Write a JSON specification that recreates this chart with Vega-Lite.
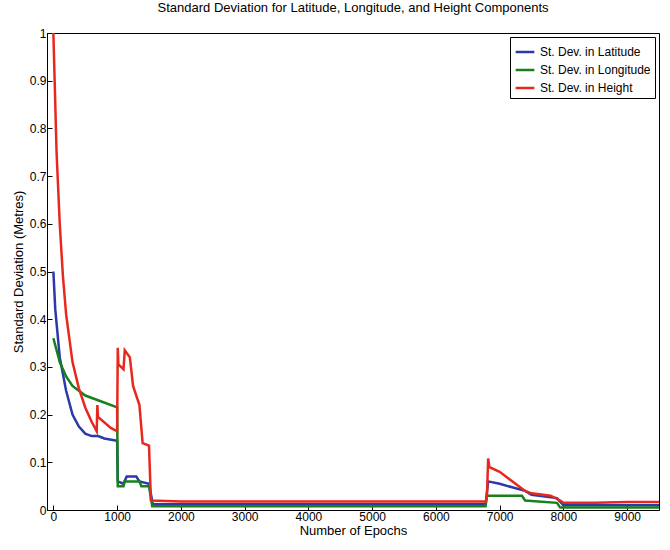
{
  "$schema": "https://vega.github.io/schema/vega-lite/v6.json",
  "width": 612,
  "height": 477,
  "autosize": "none",
  "padding": {"left": 47, "top": 33, "right": 11, "bottom": 40},
  "background": "white",
  "title": {"text": "Standard Deviation for Latitude, Longitude, and Height Components", "font": "Arial", "fontSize": 13, "fontWeight": "normal", "offset": 12},
  "config": {
    "view": {"stroke": "black", "strokeWidth": 1},
    "font": "Arial",
    "axis": {"grid": false, "domainColor": "black", "tickColor": "black", "labelColor": "black", "titleColor": "black", "labelFontSize": 12, "titleFontSize": 13, "titleFontWeight": "normal", "tickSize": -5, "labelPadding": 6}
  },
  "data": {
    "values": [
      {"s": "St. Dev. in Latitude", "x": 0, "y": 0.5},
      {"s": "St. Dev. in Latitude", "x": 30, "y": 0.42},
      {"s": "St. Dev. in Latitude", "x": 100, "y": 0.32},
      {"s": "St. Dev. in Latitude", "x": 200, "y": 0.25},
      {"s": "St. Dev. in Latitude", "x": 300, "y": 0.2},
      {"s": "St. Dev. in Latitude", "x": 400, "y": 0.175},
      {"s": "St. Dev. in Latitude", "x": 500, "y": 0.16},
      {"s": "St. Dev. in Latitude", "x": 600, "y": 0.155},
      {"s": "St. Dev. in Latitude", "x": 700, "y": 0.155},
      {"s": "St. Dev. in Latitude", "x": 800, "y": 0.15},
      {"s": "St. Dev. in Latitude", "x": 1000, "y": 0.145},
      {"s": "St. Dev. in Latitude", "x": 1010, "y": 0.06},
      {"s": "St. Dev. in Latitude", "x": 1100, "y": 0.055},
      {"s": "St. Dev. in Latitude", "x": 1150, "y": 0.07},
      {"s": "St. Dev. in Latitude", "x": 1300, "y": 0.07},
      {"s": "St. Dev. in Latitude", "x": 1350, "y": 0.06},
      {"s": "St. Dev. in Latitude", "x": 1500, "y": 0.055},
      {"s": "St. Dev. in Latitude", "x": 1560, "y": 0.012},
      {"s": "St. Dev. in Latitude", "x": 6780, "y": 0.012},
      {"s": "St. Dev. in Latitude", "x": 6820, "y": 0.06},
      {"s": "St. Dev. in Latitude", "x": 7000, "y": 0.055},
      {"s": "St. Dev. in Latitude", "x": 7400, "y": 0.04},
      {"s": "St. Dev. in Latitude", "x": 7500, "y": 0.032},
      {"s": "St. Dev. in Latitude", "x": 7900, "y": 0.025},
      {"s": "St. Dev. in Latitude", "x": 8000, "y": 0.01},
      {"s": "St. Dev. in Latitude", "x": 9500, "y": 0.01},
      {"s": "St. Dev. in Longitude", "x": 0, "y": 0.36},
      {"s": "St. Dev. in Longitude", "x": 100, "y": 0.31},
      {"s": "St. Dev. in Longitude", "x": 200, "y": 0.28},
      {"s": "St. Dev. in Longitude", "x": 300, "y": 0.26},
      {"s": "St. Dev. in Longitude", "x": 500, "y": 0.24},
      {"s": "St. Dev. in Longitude", "x": 700, "y": 0.23},
      {"s": "St. Dev. in Longitude", "x": 1000, "y": 0.215},
      {"s": "St. Dev. in Longitude", "x": 1010, "y": 0.05},
      {"s": "St. Dev. in Longitude", "x": 1100, "y": 0.05},
      {"s": "St. Dev. in Longitude", "x": 1120, "y": 0.06},
      {"s": "St. Dev. in Longitude", "x": 1350, "y": 0.06},
      {"s": "St. Dev. in Longitude", "x": 1380, "y": 0.05},
      {"s": "St. Dev. in Longitude", "x": 1500, "y": 0.05},
      {"s": "St. Dev. in Longitude", "x": 1550, "y": 0.008},
      {"s": "St. Dev. in Longitude", "x": 6780, "y": 0.008},
      {"s": "St. Dev. in Longitude", "x": 6800, "y": 0.03},
      {"s": "St. Dev. in Longitude", "x": 7350, "y": 0.03},
      {"s": "St. Dev. in Longitude", "x": 7400, "y": 0.02},
      {"s": "St. Dev. in Longitude", "x": 7900, "y": 0.015},
      {"s": "St. Dev. in Longitude", "x": 7950, "y": 0.005},
      {"s": "St. Dev. in Longitude", "x": 9500, "y": 0.005},
      {"s": "St. Dev. in Height", "x": 0, "y": 1.0},
      {"s": "St. Dev. in Height", "x": 20, "y": 0.9},
      {"s": "St. Dev. in Height", "x": 50, "y": 0.75},
      {"s": "St. Dev. in Height", "x": 100, "y": 0.6},
      {"s": "St. Dev. in Height", "x": 150, "y": 0.49},
      {"s": "St. Dev. in Height", "x": 200, "y": 0.41},
      {"s": "St. Dev. in Height", "x": 300, "y": 0.31},
      {"s": "St. Dev. in Height", "x": 400, "y": 0.255},
      {"s": "St. Dev. in Height", "x": 500, "y": 0.215},
      {"s": "St. Dev. in Height", "x": 600, "y": 0.185},
      {"s": "St. Dev. in Height", "x": 680, "y": 0.165},
      {"s": "St. Dev. in Height", "x": 690, "y": 0.22},
      {"s": "St. Dev. in Height", "x": 700, "y": 0.195},
      {"s": "St. Dev. in Height", "x": 900, "y": 0.172},
      {"s": "St. Dev. in Height", "x": 1000, "y": 0.165},
      {"s": "St. Dev. in Height", "x": 1010, "y": 0.34},
      {"s": "St. Dev. in Height", "x": 1020, "y": 0.305},
      {"s": "St. Dev. in Height", "x": 1100, "y": 0.295},
      {"s": "St. Dev. in Height", "x": 1120, "y": 0.335},
      {"s": "St. Dev. in Height", "x": 1200, "y": 0.32},
      {"s": "St. Dev. in Height", "x": 1250, "y": 0.26},
      {"s": "St. Dev. in Height", "x": 1350, "y": 0.22},
      {"s": "St. Dev. in Height", "x": 1400, "y": 0.14},
      {"s": "St. Dev. in Height", "x": 1500, "y": 0.135},
      {"s": "St. Dev. in Height", "x": 1530, "y": 0.02},
      {"s": "St. Dev. in Height", "x": 2000, "y": 0.018},
      {"s": "St. Dev. in Height", "x": 6780, "y": 0.018},
      {"s": "St. Dev. in Height", "x": 6800, "y": 0.025},
      {"s": "St. Dev. in Height", "x": 6820, "y": 0.108},
      {"s": "St. Dev. in Height", "x": 6840, "y": 0.09},
      {"s": "St. Dev. in Height", "x": 7000, "y": 0.08},
      {"s": "St. Dev. in Height", "x": 7400, "y": 0.04},
      {"s": "St. Dev. in Height", "x": 7500, "y": 0.035},
      {"s": "St. Dev. in Height", "x": 7800, "y": 0.03},
      {"s": "St. Dev. in Height", "x": 7950, "y": 0.02},
      {"s": "St. Dev. in Height", "x": 8000, "y": 0.015},
      {"s": "St. Dev. in Height", "x": 8500, "y": 0.015},
      {"s": "St. Dev. in Height", "x": 9000, "y": 0.017},
      {"s": "St. Dev. in Height", "x": 9500, "y": 0.017}
    ]
  },
  "mark": {"type": "line", "strokeWidth": 2.5, "clip": true},
  "encoding": {
    "x": {"field": "x", "type": "quantitative", "title": "Number of Epochs", "scale": {"domain": [-100, 9500], "nice": false, "zero": false}, "axis": {"values": [0, 1000, 2000, 3000, 4000, 5000, 6000, 7000, 8000, 9000], "format": "d", "titlePadding": 2}},
    "y": {"field": "y", "type": "quantitative", "title": "Standard Deviation (Metres)", "scale": {"domain": [0, 1], "nice": false}, "axis": {"values": [0, 0.1, 0.2, 0.3, 0.4, 0.5, 0.6, 0.7, 0.8, 0.9, 1], "format": "~g"}},
    "color": {"field": "s", "type": "nominal", "sort": ["St. Dev. in Latitude", "St. Dev. in Longitude", "St. Dev. in Height"], "scale": {"domain": ["St. Dev. in Latitude", "St. Dev. in Longitude", "St. Dev. in Height"], "range": ["#2b3aa8", "#17801a", "#e8281e"]},
      "legend": {"title": null, "orient": "top-right", "offset": 4, "fillColor": "white", "strokeColor": "black", "padding": 4, "labelFontSize": 12, "labelColor": "black", "symbolType": "stroke", "symbolStrokeWidth": 2.5, "symbolSize": 350, "rowPadding": 1}},
    "order": {"field": "x", "type": "quantitative"}
  }
}
